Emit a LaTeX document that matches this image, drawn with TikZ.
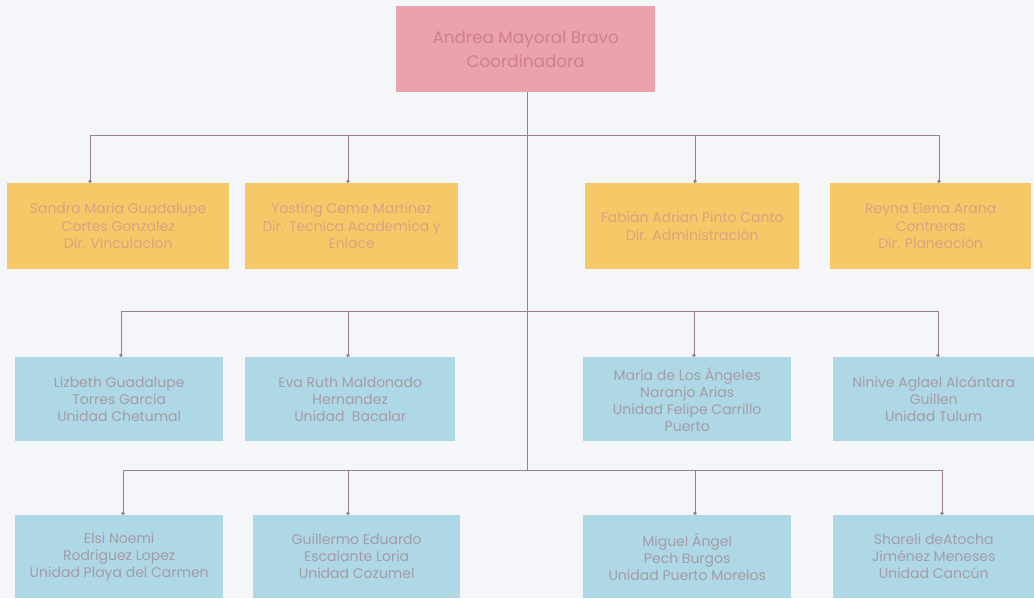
\documentclass[tikz,border=0pt]{standalone}
\usepackage{fontspec}
\setmainfont{Poppins}
\usetikzlibrary{arrows.meta}
\definecolor{bg}{RGB}{245,246,250}
\definecolor{pinkbox}{RGB}{236,162,170}
\definecolor{pinktext}{RGB}{206,128,142}
\definecolor{yelbox}{RGB}{246,201,104}
\definecolor{yeltext}{RGB}{218,162,128}
\definecolor{bluebox}{RGB}{174,216,229}
\definecolor{bluetext}{RGB}{165,155,166}
\definecolor{linec}{RGB}{155,128,134}
\tikzset{
  box/.style={rectangle, inner sep=0pt, align=center, anchor=north west},
  topbox/.style={box, fill=pinkbox, text=pinktext, font=\fontsize{16.8}{24}\selectfont},
  ybox/.style={box, fill=yelbox, text=yeltext, font=\fontsize{14}{17.5}\selectfont},
  bbox/.style={box, fill=bluebox, text=bluetext, font=\fontsize{14}{17}\selectfont},
  conn/.style={draw=linec, line width=0.9pt},
  drop/.style={conn, -{Circle[length=3.4pt]}},
}
\begin{document}
\begin{tikzpicture}[x=1pt,y=-1pt]
\fill[bg] (0,0) rectangle (1034,598);
\useasboundingbox (0,0) rectangle (1034,598);
% top
\node[topbox, minimum width=259pt, minimum height=86pt] (top) at (396,6) {Andrea Mayoral Bravo\\Coordinadora};
% row 1
\node[ybox, minimum width=222pt, minimum height=86pt] (a1) at (7,183) {Sandra Maria Guadalupe\\Cortes Gonzalez\\Dir. Vinculacion};
\node[ybox, minimum width=213pt, minimum height=86pt] (a2) at (245,183) {Yosting Ceme Martinez\\Dir. Tecnica Academica y\\Enlace};
\node[ybox, minimum width=214pt, minimum height=86pt] (a3) at (585,183) {Fabián Adrian Pinto Canto\\Dir. Administración};
\node[ybox, minimum width=201pt, minimum height=86pt] (a4) at (830,183) {Reyna Elena Arana\\Contreras\\Dir. Planeación};
% row 2
\node[bbox, minimum width=208pt, minimum height=84pt] (b1) at (15,357) {Lizbeth Guadalupe\\Torres Garcia\\Unidad Chetumal};
\node[bbox, minimum width=210pt, minimum height=84pt] (b2) at (245,357) {Eva Ruth Maldonado\\Hernandez\\Unidad\ \ Bacalar};
\node[bbox, minimum width=208pt, minimum height=84pt] (b3) at (583,357) {María de Los Ángeles\\Naranjo Arias\\Unidad Felipe Carrillo\\Puerto};
\node[bbox, minimum width=201pt, minimum height=84pt] (b4) at (833,357) {Ninive Aglael Alcántara\\Guillen\\Unidad Tulum};
% row 3
\node[bbox, minimum width=208pt, minimum height=83pt] (c1) at (15,515) {Elsi Noemi\\Rodriguez Lopez\\Unidad Playa del Carmen};
\node[bbox, minimum width=207pt, minimum height=83pt] (c2) at (253,515) {Guillermo Eduardo\\Escalante Loria\\Unidad Cozumel};
\node[bbox, minimum width=208pt, minimum height=83pt] (c3) at (583,515) {Miguel Ángel\\Pech Burgos\\Unidad Puerto Morelos};
\node[bbox, minimum width=201pt, minimum height=83pt] (c4) at (833,515) {Shareli deAtocha\\Jiménez Meneses\\Unidad Cancún};
% bus coordinates
\coordinate (t3) at (527,470);
\coordinate (p1a) at (90,135);  \coordinate (p1b) at (348,135); \coordinate (p1c) at (695,135); \coordinate (p1d) at (939,135);
\coordinate (p2a) at (121,311); \coordinate (p2b) at (348,311); \coordinate (p2c) at (694,311); \coordinate (p2d) at (938,311);
\coordinate (p3a) at (123,470); \coordinate (p3b) at (348,470); \coordinate (p3c) at (695,470); \coordinate (p3d) at (942,470);
% trunk and buses
\draw[conn] (top.south -| t3) -- (t3);
\draw[conn] (p1a) -- (p1d);
\draw[conn] (p2a) -- (p2d);
\draw[conn] (p3a) -- (p3d);
% drops
\draw[drop] (p1a) -- (p1a |- a1.north);
\draw[drop] (p1b) -- (p1b |- a2.north);
\draw[drop] (p1c) -- (p1c |- a3.north);
\draw[drop] (p1d) -- (p1d |- a4.north);
\draw[drop] (p2a) -- (p2a |- b1.north);
\draw[drop] (p2b) -- (p2b |- b2.north);
\draw[drop] (p2c) -- (p2c |- b3.north);
\draw[drop] (p2d) -- (p2d |- b4.north);
\draw[drop] (p3a) -- (p3a |- c1.north);
\draw[drop] (p3b) -- (p3b |- c2.north);
\draw[drop] (p3c) -- (p3c |- c3.north);
\draw[drop] (p3d) -- (p3d |- c4.north);
\end{tikzpicture}
\end{document}
